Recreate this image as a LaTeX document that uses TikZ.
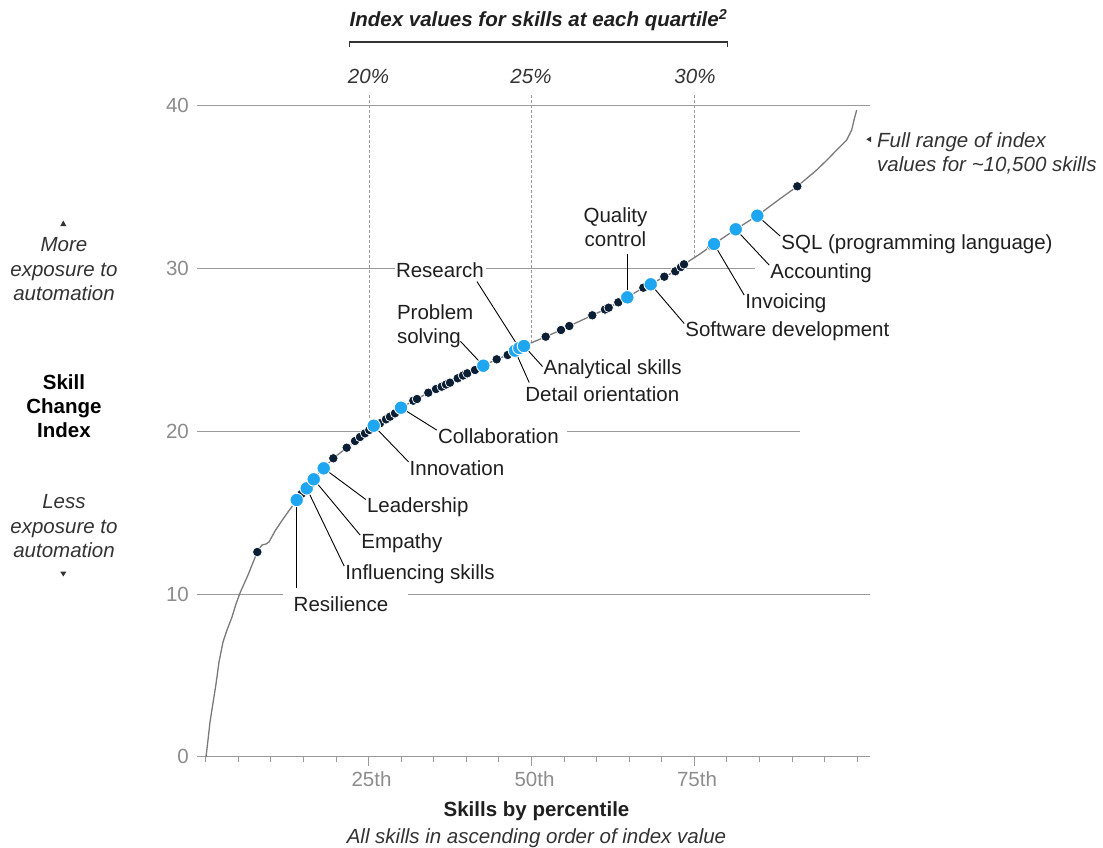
\documentclass[tikz,border=0pt]{standalone}
\usepackage{fontspec}
\setmainfont{Liberation Sans}
\usetikzlibrary{positioning}

\definecolor{skillnavy}{HTML}{0B1E33}
\definecolor{skillblue}{HTML}{1FA6F0}
\definecolor{gridgray}{HTML}{9A9A9A}
\definecolor{curvegray}{HTML}{7A7A7A}
\definecolor{tickgray}{HTML}{8C8C8C}
\definecolor{notegray}{HTML}{333333}
\newcommand\chartfont{\fontsize{20.5}{24.5}\selectfont}

\tikzset{
  gridline/.style={draw=gridgray, line width=1pt},
  quartline/.style={draw=gridgray, line width=0.8pt, dash pattern=on 3pt off 2pt},
  skillcurve/.style={draw=curvegray, line width=1.3pt, line join=round},
  skilldot/.style={circle, fill=skillnavy, draw=white, line width=0.7pt, inner sep=0pt, minimum size=9.5pt},
  keydot/.style={circle, fill=skillblue, draw=white, line width=0.9pt, inner sep=0pt, minimum size=13.5pt},
  leaderline/.style={draw=black, line width=0.9pt},
  skilllabel/.style={anchor=base west, inner sep=1pt, text height=12pt, text depth=3pt, font=\chartfont, text=black!88},
  ticklabel/.style={inner sep=0pt, font=\chartfont, text=tickgray},
  sidenote/.style={inner sep=0pt, font=\chartfont\itshape, text=notegray, align=center},
}

\begin{document}
\begin{tikzpicture}[x=1pt, y=-1pt]
\useasboundingbox (0,0) rectangle (1103,848);

% grid and axis
\draw[gridline] (197,105.7) -- (870,105.7);
\draw[gridline] (197,268.6) -- (395,268.6);
\draw[gridline] (486,268.6) -- (755,268.6);
\draw[gridline] (197,431.5) -- (364,431.5);
\draw[gridline] (567,431.5) -- (800,431.5);
\draw[gridline] (197,594.3) -- (283,594.3);
\draw[gridline] (408,594.3) -- (870,594.3);
\draw[gridline] (197,756.7) -- (870,756.7);
\foreach \i in {0,...,20}
  \draw[gridline] ({205.7+32.58*\i},756.7) -- ++(0,5.5);
\foreach \i in {5,10,15}
  \draw[gridline] ({205.7+32.58*\i},756.7) -- ++(0,9);

\foreach \v/\yy in {0/756.7,10/594.3,20/431.5,30/268.6,40/105.7}
  \node[ticklabel, anchor=east] (tick\v) at (189,\yy) {\v};
\node[ticklabel, anchor=base] (p25) at (371.5,786.7) {25th};
\node[ticklabel, anchor=base] (p50) at (534.5,786.7) {50th};
\node[ticklabel, anchor=base] (p75) at (697,786.7) {75th};

% quartile markers
\node[anchor=base, inner sep=0pt, font=\chartfont\bfseries\itshape, text=black!88] (quart-title) at (538.5,26.7)
  {Index values for skills at each quartile\textsuperscript{2}};
\draw[draw=notegray, line width=1.2pt] (349.3,47) -- (349.3,42) -- (727.7,42) -- (727.7,47);
\node[sidenote, anchor=base] (q20) at (368.5,83.3) {20\%};
\node[sidenote, anchor=base] (q25) at (531,83.3) {25\%};
\node[sidenote, anchor=base] (q30) at (695,83.3) {30\%};
\draw[quartline] (369,95) -- (369,431);
\draw[quartline] (531.7,95) -- (531.7,342);
\draw[quartline] (694,95) -- (694,257);

% index curve
\draw[skillcurve] plot coordinates {
  (206,757) (208,740) (210,722) (213,703) (216,684) (219,662) (223,642)
  (227,630) (232,617) (236,604) (240,593) (244,584) (248,575) (252,565)
  (256,555) (259,549) (262,545) (266,544) (269,542) (275,531) (281,522)
  (288,512) (296.7,500) (306.7,488.3) (313.7,479.3) (323.7,468.3)
  (333.3,458.3) (346.7,447.7) (358,439.5) (369,430) (373.7,425.7)
  (386,419.3) (401,407.7) (416,399.5) (428.3,392.7) (441.7,386.7)
  (457.7,378.3) (475,370) (483.3,365.7) (496.7,359.3) (507.7,355)
  (515,350.7) (524,346) (545.7,336.7) (561,330) (569.3,326) (592.3,315.3)
  (608.7,307.7) (618.3,302.3) (627.3,297.3) (643.3,287.7) (650.7,284.3)
  (664.3,276.7) (675.3,271.3) (684,264.3) (700,254) (714,244)
  (735.7,229.3) (757.3,215.7) (777,201) (797.3,186.3) (816.7,170)
  (828,159) (836.7,150) (846.7,140) (851.7,130) (854,120) (856.7,110)};

\foreach \p [count=\i] in {(257.3,552),(301.5,494),(310,486),(333.3,458.3),
  (346.7,447.7),(355,441),(360,437),(365,433.3),(369.3,430),(380,423.3),
  (386,419.3),(390,416.7),(395,413.3),(413.3,400.7),(417,399),(428.3,392.7),
  (436,389),(441.7,386.7),(446,384.5),(450,382.7),(457.7,378.3),(463,375.5),
  (467.3,373.3),(475,370),(496.7,359.3),(507.7,355),(545.7,336.7),(561,330),
  (569.3,326),(592.3,315.3),(605,309.5),(608.7,307.7),(618.3,302.3),
  (643.3,287.7),(664.3,276.7),(675.3,271.3),(681,267),(684,264.3),
  (711,246),(797.3,186.3)}
  \node[skilldot] (dot\i) at \p {};

\node[keydot] (resil) at (296.7,500) {};
\node[keydot] (influ) at (306.7,488.3) {};
\node[keydot] (empat) at (313.7,479.3) {};
\node[keydot] (leadsh) at (323.7,468.3) {};
\node[keydot] (innov) at (373.7,425.7) {};
\node[keydot] (collab) at (401,407.7) {};
\node[keydot] (probsolv) at (483.3,365.7) {};
\node[keydot] (detail) at (515,350.7) {};
\node[keydot] (research) at (519.3,348) {};
\node[keydot] (analyt) at (524,346) {};
\node[keydot] (quality) at (627.3,297.3) {};
\node[keydot] (softdev) at (650.7,284.3) {};
\node[keydot] (invoic) at (714,244) {};
\node[keydot] (account) at (735.7,229.3) {};
\node[keydot] (sql) at (757.3,215.7) {};

% skill labels
\node[skilllabel] (resil-lbl) at (292.5,611.5) {Resilience};
\node[skilllabel] (influ-lbl) at (344.2,579.3) {Influencing skills};
\node[skilllabel] (empat-lbl) at (360.2,548.3) {Empathy};
\node[skilllabel] (leadsh-lbl) at (365.8,512.7) {Leadership};
\node[skilllabel] (innov-lbl) at (408.5,475) {Innovation};
\node[skilllabel] (collab-lbl) at (436.8,443.3) {Collaboration};
\node[inner sep=0pt, anchor=north west, align=left, font=\chartfont, text=black!88] (probsolv-lbl) at (396.8,304.4) {Problem\\solving};
\node[skilllabel] (research-lbl) at (394.8,277.3) {Research};
\node[skilllabel] (detail-lbl) at (524.2,401.7) {Detail orientation};
\node[skilllabel] (analyt-lbl) at (542.5,374) {Analytical skills};
\node[inner sep=0pt, anchor=north, align=center, font=\chartfont, text=black!88] (quality-lbl) at (615.5,207.4) {Quality\\control};
\node[skilllabel] (softdev-lbl) at (684.2,336.7) {Software development};
\node[skilllabel] (invoic-lbl) at (744.2,308.3) {Invoicing};
\node[skilllabel] (account-lbl) at (769.2,278.3) {Accounting};
\node[skilllabel] (sql-lbl) at (780.2,249.3) {SQL (programming language)};

\draw[leaderline] (resil) -- ([yshift=10pt]resil-lbl.north -| resil);
\draw[leaderline] (influ) -- (influ-lbl.north west);
\draw[leaderline] (empat) -- (empat-lbl.north west);
\draw[leaderline] (leadsh) -- (leadsh-lbl.north west);
\draw[leaderline] (innov) -- (innov-lbl.north west);
\draw[leaderline] (collab) -- (collab-lbl.north west);
\draw[leaderline] ([xshift=-13pt,yshift=7pt]probsolv-lbl.south east) -- (probsolv);
\draw[leaderline] ([xshift=-8pt]research-lbl.south east) -- (research);
\draw[leaderline] (detail) -- ([xshift=5pt,yshift=6pt]detail-lbl.north west);
\draw[leaderline] (analyt) -- ([yshift=3pt]analyt-lbl.west);
\draw[leaderline] (quality) -- ([yshift=-6.6pt]quality-lbl.south -| quality);
\draw[leaderline] (softdev) -- (softdev-lbl.north west);
\draw[leaderline] (invoic) -- (invoic-lbl.north west);
\draw[leaderline] (account) -- (account-lbl.north west);
\draw[leaderline] (sql) -- (sql-lbl.north west);

% side notes
\fill[notegray] (60.3,226) -- (66.3,226) -- (63.3,220.5) -- cycle;
\node[sidenote, anchor=north] (more-note) at (64,237.6) {More\\exposure to\\automation};
\node[sidenote, anchor=north, font=\fontsize{20.5}{23.7}\selectfont\bfseries, text=black] (sci-title) at (64,374.6) {Skill\\Change\\Index};
\node[sidenote, anchor=north] (less-note) at (64,494.6) {Less\\exposure to\\automation};
\fill[notegray] (60.3,571.7) -- (66.3,571.7) -- (63.3,576.5) -- cycle;

\fill[notegray] (866.3,139.3) -- (871,136.5) -- (871,142.1) -- cycle;
\node[sidenote, anchor=north west, align=left] (range-note) at (877,132) {Full range of index\\values for \textasciitilde10,500 skills};

\node[anchor=base, inner sep=0pt, font=\chartfont\bfseries, text=black!88] (x-title) at (536.5,816) {Skills by percentile};
\node[sidenote, anchor=base] (x-sub) at (536.5,843.3) {All skills in ascending order of index value};
\end{tikzpicture}
\end{document}
